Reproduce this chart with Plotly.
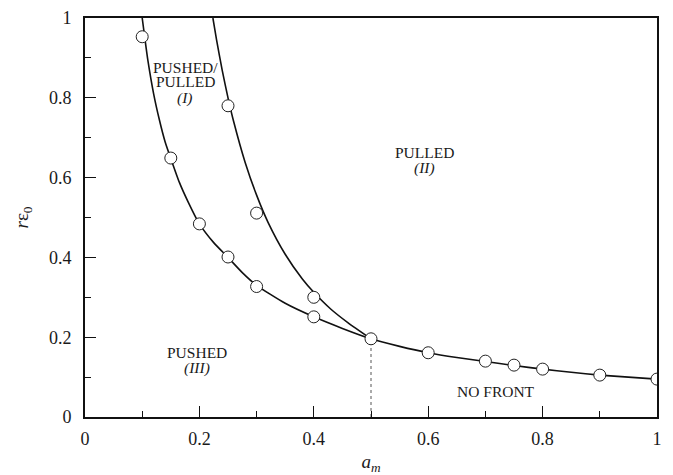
import plotly.graph_objects as go

# Lower boundary curve (PUSHED / PUSHED-PULLED & NO FRONT)
lower_a_line = [0.1, 0.105, 0.11, 0.12, 0.13, 0.14, 0.15, 0.165, 0.18, 0.2, 0.225, 0.25, 0.275, 0.3,
                0.35, 0.4, 0.45, 0.5, 0.55, 0.6, 0.65, 0.7, 0.75, 0.8, 0.85, 0.9, 0.95, 1.0]
lower_r_line = [1.0, 0.945, 0.893, 0.81, 0.745, 0.69, 0.648, 0.588, 0.54, 0.484, 0.437, 0.400, 0.362, 0.330,
                0.285, 0.251, 0.222, 0.196, 0.177, 0.161, 0.149, 0.139, 0.129, 0.120, 0.112, 0.105, 0.100, 0.095]

# Upper boundary curve (PUSHED/PULLED vs PULLED)
upper_a_line = [0.2236, 0.23, 0.24, 0.25, 0.26, 0.28, 0.30, 0.32, 0.35, 0.38, 0.40, 0.43, 0.46, 0.5]
upper_r_line = [1.0, 0.945, 0.868, 0.80, 0.74, 0.638, 0.556, 0.488, 0.408, 0.346, 0.3125, 0.270, 0.236, 0.196]

# Simulation points
lower_a_pts = [0.1, 0.15, 0.2, 0.25, 0.3, 0.4, 0.5, 0.6, 0.7, 0.75, 0.8, 0.9, 1.0]
lower_r_pts = [0.953, 0.649, 0.484, 0.401, 0.327, 0.251, 0.196, 0.161, 0.140, 0.130, 0.120, 0.105, 0.095]
upper_a_pts = [0.25, 0.3, 0.4]
upper_r_pts = [0.780, 0.511, 0.300]

# Dotted marker line
crit_a = [0.5, 0.5]
crit_r = [0.0, 0.196]

x_ticks = [0, 0.2, 0.4, 0.6, 0.8, 1]
x_tick_labels = ["0", "0.2", "0.4", "0.6", "0.8", "1"]
y_ticks = [0, 0.2, 0.4, 0.6, 0.8, 1]
y_tick_labels = ["0", "0.2", "0.4", "0.6", "0.8", "1"]

FONT = "Liberation Serif"
TXT = "#1a1a1a"

fig = go.Figure()
fig.add_trace(go.Scatter(x=crit_a, y=crit_r, mode="lines",
                         line=dict(color="#555", width=1, dash="dot"), showlegend=False))
fig.add_trace(go.Scatter(x=lower_a_line, y=lower_r_line, mode="lines",
                         line=dict(color="#111", width=1.6, shape="spline", smoothing=0.6), showlegend=False))
fig.add_trace(go.Scatter(x=upper_a_line, y=upper_r_line, mode="lines",
                         line=dict(color="#111", width=1.6, shape="spline", smoothing=0.6), showlegend=False))
fig.add_trace(go.Scatter(x=lower_a_pts + upper_a_pts, y=lower_r_pts + upper_r_pts, mode="markers",
                         marker=dict(symbol="circle", size=12, color="white",
                                     line=dict(color="#222", width=1)), showlegend=False))

labels = [
    (0.175, 0.877, "PUSHED/"),
    (0.175, 0.840, "PULLED"),
    (0.175, 0.800, "<i>(I)</i>"),
    (0.594, 0.664, "PULLED"),
    (0.594, 0.624, "<i>(II)</i>"),
    (0.196, 0.161, "PUSHED"),
    (0.196, 0.123, "<i>(III)</i>"),
    (0.718, 0.065, "NO FRONT"),
]
for x, y, t in labels:
    fig.add_annotation(x=x, y=y, text=t, showarrow=False, xanchor="center", yanchor="middle",
                       font=dict(family=FONT, size=15.5, color=TXT))

axis_common = dict(
    showgrid=False, zeroline=False, showline=True, linecolor="#111", linewidth=1.6, mirror=True,
    ticks="inside", ticklen=11, tickwidth=1.3, tickcolor="#111", automargin=False,
    tickfont=dict(family=FONT, size=18, color=TXT),
    minor=dict(ticks="inside", ticklen=6, tickwidth=1.3, tickcolor="#111", dtick=0.1, showgrid=False),
)

fig.update_xaxes(range=[0, 1], tickvals=x_ticks, ticktext=x_tick_labels, ticklabelstandoff=5,
                 title=dict(text="<i>a<sub>m</sub></i>", font=dict(family=FONT, size=19, color=TXT), standoff=6),
                 **axis_common)
fig.update_yaxes(range=[0, 1], tickvals=y_ticks, ticktext=y_tick_labels, ticklabelstandoff=8,
                 title=dict(text="<i>r</i>ε<sub>0</sub>", font=dict(family=FONT, size=19, color=TXT), standoff=15),
                 **axis_common)

fig.update_layout(width=673, height=475, margin=dict(l=85, r=16, t=18, b=58),
                  plot_bgcolor="white", paper_bgcolor="white",
                  font=dict(family=FONT, color=TXT))

fig.write_html("out.html")
